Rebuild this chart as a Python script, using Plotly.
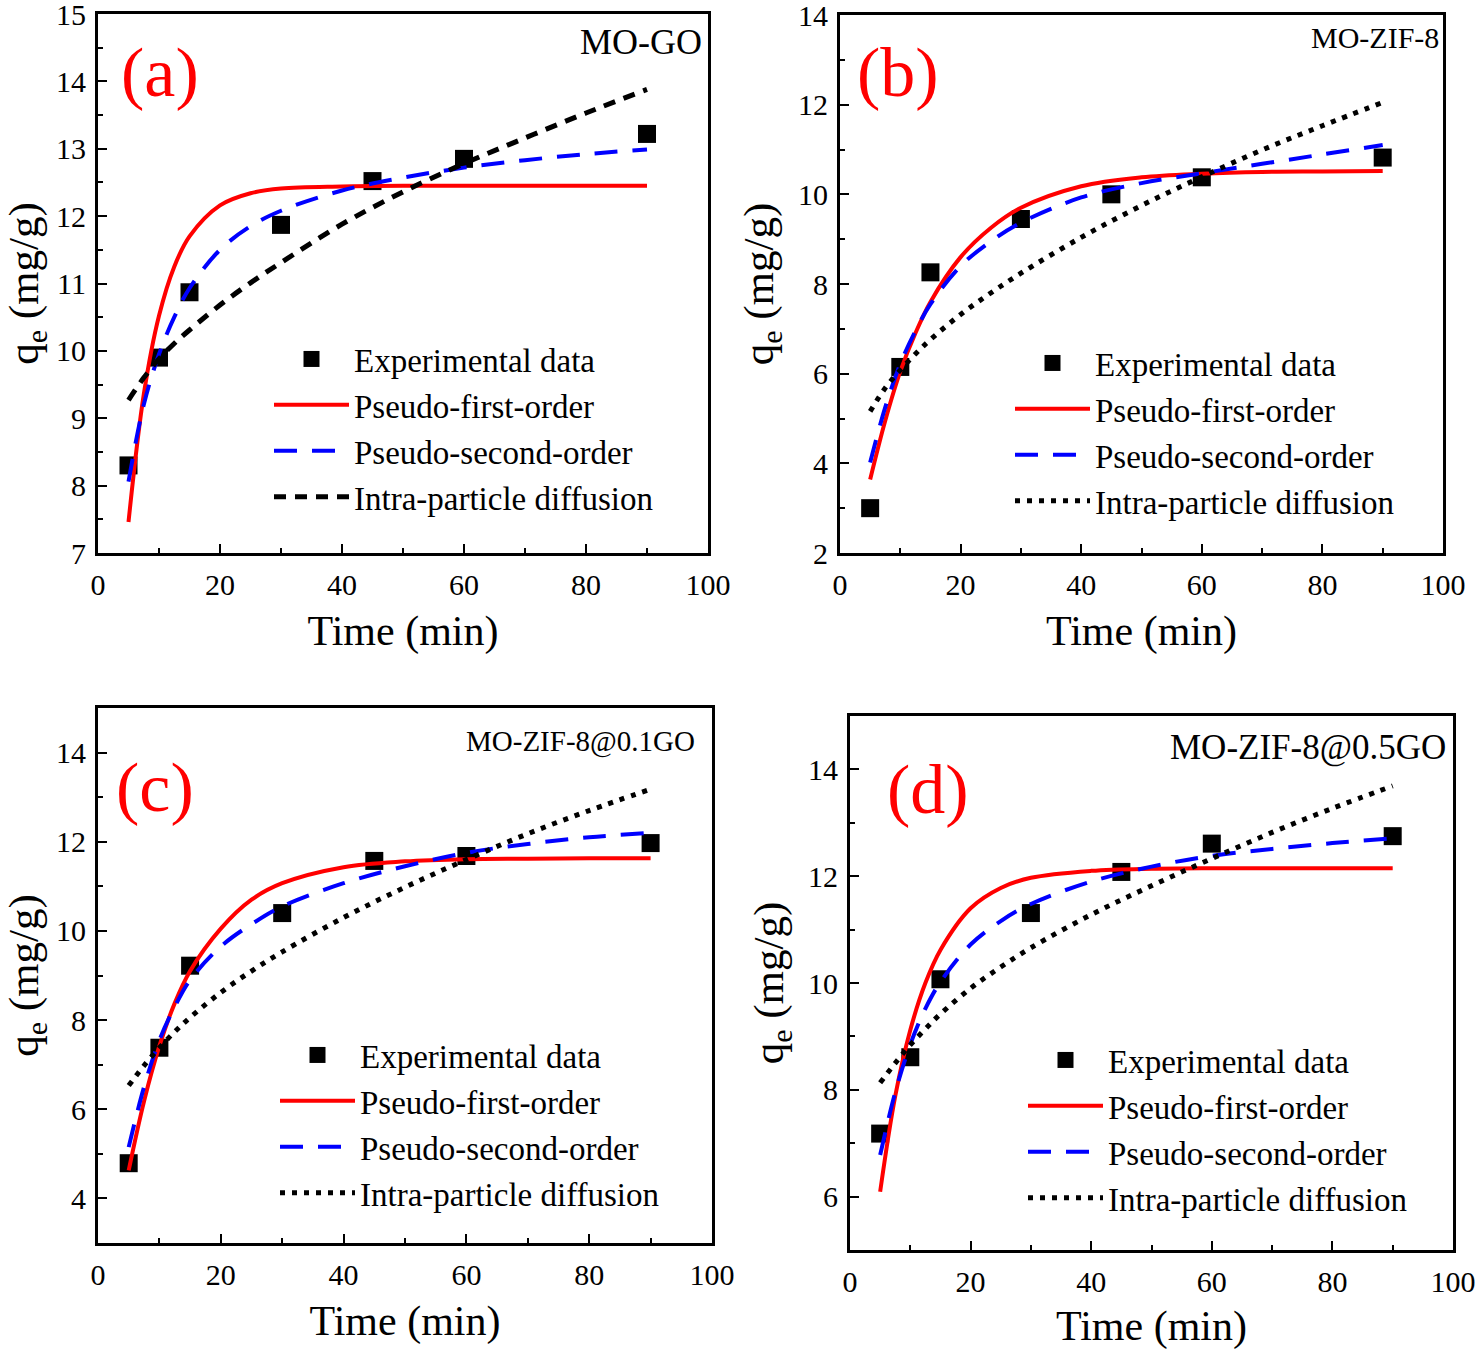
import plotly.graph_objects as go

W, H = 1477, 1350
FONT = "Liberation Serif"

# time grid of the experiments and of the fitted curves (min)
T_EXP = [5, 10, 15, 30, 45, 60, 90]
T_FIT = [5, 7.5, 10, 12.5, 15, 20, 25, 30, 40, 50, 60, 70, 80, 90]

# (a) MO-GO
EXP_A = [8.30, 9.90, 10.87, 11.87, 12.52, 12.85, 13.22]
PFO_A = [7.46, 9.35, 10.52, 11.25, 11.70, 12.16, 12.34, 12.41, 12.44, 12.45, 12.45, 12.45, 12.45, 12.45]
PSO_A = [8.06, 9.20, 9.95, 10.50, 10.93, 11.50, 11.85, 12.08, 12.38, 12.57, 12.72, 12.83, 12.92, 12.99]
IPD_A = [9.27, 9.60, 9.88, 10.11, 10.31, 10.68, 11.01, 11.31, 11.88, 12.36, 12.78, 13.16, 13.53, 13.88]

# (b) MO-ZIF-8
EXP_B = [3.00, 6.15, 8.26, 9.45, 10.00, 10.38, 10.82]
PFO_B = [3.64, 4.95, 6.05, 6.90, 7.60, 8.60, 9.25, 9.70, 10.18, 10.38, 10.46, 10.50, 10.51, 10.52]
PSO_B = [4.02, 5.25, 6.22, 6.95, 7.55, 8.40, 8.95, 9.37, 9.93, 10.25, 10.47, 10.68, 10.89, 11.10]
IPD_B = [5.16, 5.68, 6.08, 6.44, 6.76, 7.32, 7.80, 8.24, 9.04, 9.75, 10.39, 10.99, 11.53, 12.05]

# (c) MO-ZIF-8@0.1GO
EXP_C = [4.79, 7.38, 9.22, 10.40, 11.57, 11.68, 11.97]
PFO_C = [4.63, 6.18, 7.42, 8.38, 9.10, 10.05, 10.70, 11.07, 11.43, 11.56, 11.61, 11.62, 11.63, 11.63]
PSO_C = [5.15, 6.50, 7.55, 8.30, 8.90, 9.65, 10.15, 10.55, 11.07, 11.45, 11.75, 11.95, 12.10, 12.20]
IPD_C = [6.53, 6.98, 7.38, 7.74, 8.06, 8.62, 9.10, 9.53, 10.30, 10.98, 11.60, 12.18, 12.70, 13.18]

# (d) MO-ZIF-8@0.5GO
EXP_D = [7.18, 8.61, 10.07, 11.31, 12.08, 12.61, 12.75]
PFO_D = [6.09, 7.88, 9.12, 10.00, 10.62, 11.40, 11.78, 11.97, 12.10, 12.14, 12.15, 12.15, 12.15, 12.15]
PSO_D = [6.78, 7.95, 8.85, 9.52, 10.02, 10.72, 11.16, 11.48, 11.90, 12.18, 12.38, 12.51, 12.62, 12.71]
IPD_D = [8.13, 8.50, 8.84, 9.14, 9.42, 9.90, 10.30, 10.66, 11.28, 11.82, 12.33, 12.82, 13.27, 13.69]

NAMES = ["Experimental data", "Pseudo-first-order", "Pseudo-second-order",
         "Intra-particle diffusion"]

# panel boxes in pixels: left, right, top, bottom
PANELS = [
    dict(tag="(a)", sample="MO-GO", box=(98, 708, 14, 553), yr=(7, 15), y0=7, dy=1,
         data=(EXP_A, PFO_A, PSO_A, IPD_A), ipd_dash="12px,9px", ipd_w=5,
         tag_xy=(160, 72), sample_xy=(704, 42), sample_size=36,
         leg_xy=(269, 331)),
    dict(tag="(b)", sample="MO-ZIF-8", box=(840, 1443, 15, 553), yr=(2, 14), y0=2, dy=2,
         data=(EXP_B, PFO_B, PSO_B, IPD_B), ipd_dash="5px,7px", ipd_w=5,
         tag_xy=(898, 72), sample_xy=(1441, 38), sample_size=30,
         leg_xy=(1010, 335)),
    dict(tag="(c)", sample="MO-ZIF-8@0.1GO", box=(98, 712, 708, 1243), yr=(3, 15), y0=4, dy=2,
         data=(EXP_C, PFO_C, PSO_C, IPD_C), ipd_dash="5px,7px", ipd_w=5,
         tag_xy=(155, 787), sample_xy=(697, 741), sample_size=29,
         leg_xy=(275, 1027)),
    dict(tag="(d)", sample="MO-ZIF-8@0.5GO", box=(850, 1453, 716, 1250), yr=(5, 15), y0=6, dy=2,
         data=(EXP_D, PFO_D, PSO_D, IPD_D), ipd_dash="5px,7px", ipd_w=5,
         tag_xy=(928, 790), sample_xy=(1448, 747), sample_size=35,
         leg_xy=(1023, 1032)),
]


def px(x):
    return x / W


def py(y):
    return 1 - y / H


fig = go.Figure()
layout = {}
annotations = []

for i, p in enumerate(PANELS):
    n = "" if i == 0 else str(i + 1)
    xa, ya = "x" + n, "y" + n
    leg = "legend" + n
    exp, pfo, pso, ipd = p["data"]
    common = dict(xaxis=xa, yaxis=ya, legend=leg, hoverinfo="x+y")

    fig.add_trace(go.Scatter(x=T_EXP, y=exp, mode="markers", name=NAMES[0],
                             marker=dict(symbol="square", size=18, color="black"),
                             legendgroup=f"{i}e", **common))
    fig.add_trace(go.Scatter(x=T_FIT, y=pfo, mode="lines", name=NAMES[1],
                             line=dict(color="#ff0000", width=4, shape="spline"),
                             legendgroup=f"{i}1", **common))
    fig.add_trace(go.Scatter(x=T_FIT, y=pso, mode="lines", name=NAMES[2],
                             line=dict(color="#0000ff", width=4, shape="spline",
                                       dash="23px,15px"),
                             legendgroup=f"{i}2", **common))
    fig.add_trace(go.Scatter(x=T_FIT, y=ipd, mode="lines", name=NAMES[3],
                             line=dict(color="black", width=p["ipd_w"], shape="spline",
                                       dash=p["ipd_dash"]),
                             legendgroup=f"{i}3", **common))

    l, r, t, b = p["box"]
    axis_common = dict(showline=True, linecolor="black", linewidth=3, mirror=True,
                       ticks="inside", ticklen=9, tickwidth=2, tickcolor="black",
                       showgrid=False, zeroline=False, automargin=False,
                       ticklabeloverflow="allow", ticklabelstandoff=3,
                       tickfont=dict(family=FONT, size=30, color="black"))
    layout["xaxis" + n] = dict(
        domain=[px(l), px(r)], anchor=ya, range=[0, 100], tick0=0, dtick=20,
        minor=dict(dtick=10, ticks="inside", ticklen=5, tickwidth=2, tickcolor="black",
                   showgrid=False),
        title=dict(text="Time (min)", font=dict(family=FONT, size=42, color="black"),
                   standoff=16),
        **axis_common)
    layout["yaxis" + n] = dict(
        domain=[py(b), py(t)], anchor=xa, range=list(p["yr"]),
        tick0=p["y0"], dtick=p["dy"],
        minor=dict(tick0=p["y0"], dtick=p["dy"] / 2, ticks="inside", ticklen=5,
                   tickwidth=2, tickcolor="black", showgrid=False),
        title=dict(text="q<sub>e</sub> (mg/g)",
                   font=dict(family=FONT, size=43, color="black"), standoff=11),
        **axis_common)

    lx, ly = p["leg_xy"]
    layout[leg] = dict(x=px(lx), y=py(ly), xanchor="left", yanchor="top",
                       bgcolor="rgba(0,0,0,0)", tracegroupgap=0, itemwidth=75,
                       font=dict(family=FONT, size=33, color="black"))

    annotations.append(dict(x=px(p["tag_xy"][0]), y=py(p["tag_xy"][1]),
                            xref="paper", yref="paper", text=p["tag"], showarrow=False,
                            xanchor="center", yanchor="middle",
                            font=dict(family=FONT, size=70, color="#ff0000")))
    annotations.append(dict(x=px(p["sample_xy"][0]), y=py(p["sample_xy"][1]),
                            xref="paper", yref="paper", text=p["sample"], showarrow=False,
                            xanchor="right", yanchor="middle",
                            font=dict(family=FONT, size=p["sample_size"], color="black")))

fig.update_layout(width=W, height=H, margin=dict(l=0, r=0, t=0, b=0),
                  paper_bgcolor="white", plot_bgcolor="white",
                  font=dict(family=FONT, color="black"),
                  annotations=annotations, **layout)

# drop the browser's default 8px body margin so the figure fills the window
fig.write_html("out.html", config={"displayModeBar": False},
               post_script="document.body.style.margin = '0';")
